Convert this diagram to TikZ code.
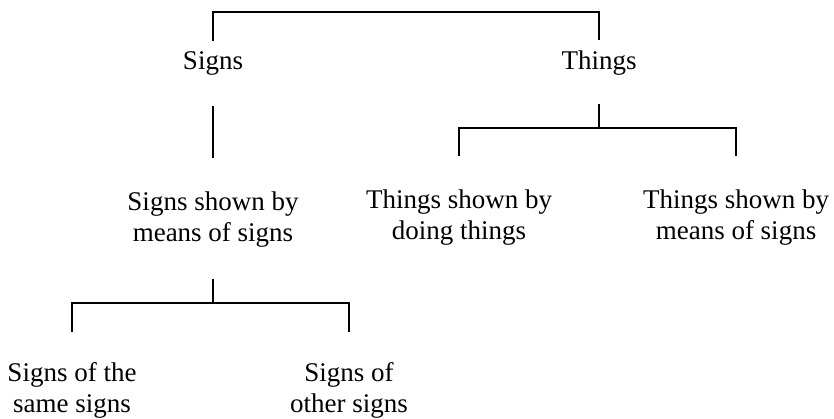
\documentclass[tikz,border=0pt]{standalone}
\usepackage{fontspec}
\setmainfont{Liberation Serif}
\usetikzlibrary{positioning,calc}

\begin{document}
\begin{tikzpicture}[
    x=1pt, y=-1pt,
    term/.style={font=\fontsize{27pt}{31pt}\selectfont, align=center,
                 inner sep=0pt, outer sep=0pt, anchor=base},
    branch/.style={line width=1.5pt, line join=miter},
]
\useasboundingbox (0,0) rectangle (834,418);

% Top level
\node[term] (signs)  at (213, 69) {Signs};
\node[term] (things) at (599, 69) {Things};
\coordinate (topbar) at (406, 12);
\draw[branch] ([yshift=10pt]signs.north) |- (topbar) -| ([yshift=10pt]things.north);

% Second level (base = last line)
\node[term] (signsbysigns)  at (213, 241) {Signs shown by\\means of signs};
\node[term] (thingsbydoing) at (459, 239) {Things shown by\\doing things};
\node[term] (thingsbysigns) at (736, 239) {Things shown by\\means of signs};
\draw[branch] ([yshift=-31pt]signs.south) -- ([yshift=33pt]signsbysigns.north);
\coordinate (thingsbar) at (599, 128);
\draw[branch] ([yshift=-29pt]things.south) -- (thingsbar);
\draw[branch] ([yshift=33pt]thingsbydoing.north) |- (thingsbar)
    -| ([yshift=33pt]thingsbysigns.north);

% Third level
\node[term] (samesigns)  at (72, 412)  {Signs of the\\same signs};
\node[term] (othersigns) at (349, 412) {Signs of\\other signs};
\coordinate (signsbar) at (213, 303);
\draw[branch] ([yshift=-32pt]signsbysigns.south) -- (signsbar);
\draw[branch] ([yshift=30pt]samesigns.north) |- (signsbar)
    -| ([yshift=30pt]othersigns.north);
\end{tikzpicture}
\end{document}
